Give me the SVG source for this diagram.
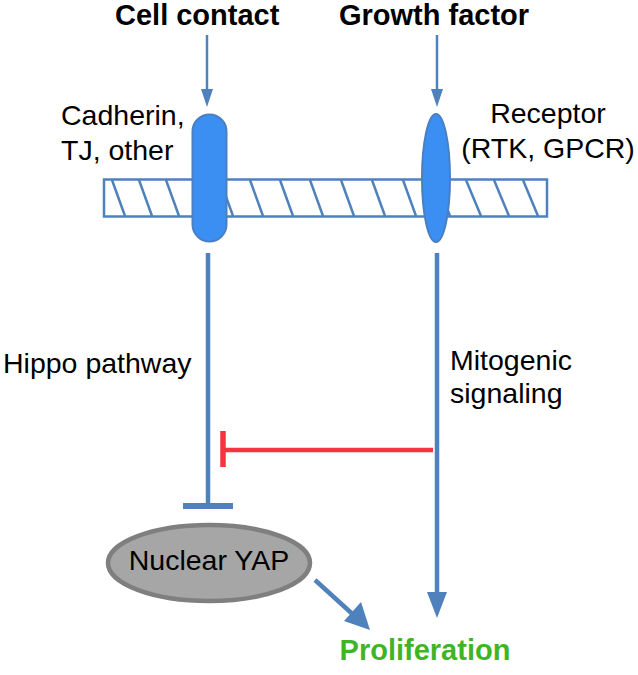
<svg xmlns="http://www.w3.org/2000/svg" width="638" height="675" viewBox="0 0 638 675">
<defs>
<style>
.t{font-family:"Liberation Sans",Arial,sans-serif;font-size:28.5px;fill:#000}
.b{font-family:"Liberation Sans",Arial,sans-serif;font-size:29px;font-weight:bold;fill:#000}
.ln{stroke:#4f81bd;fill:none}
.st{stroke:#4f81bd;stroke-width:2.5}
.hd{fill:#4f81bd}
</style>
</defs>
<rect width="638" height="675" fill="#fff"/>

<g id="membrane">
<rect x="104" y="179.5" width="443" height="37" fill="#fff" stroke="#4f81bd" stroke-width="2.5"/>
<g class="st">
<line x1="112" y1="180" x2="125" y2="216"/>
<line x1="139" y1="180" x2="152" y2="216"/>
<line x1="166" y1="180" x2="179" y2="216"/>
<line x1="220" y1="180" x2="233" y2="216"/>
<line x1="250" y1="180" x2="263" y2="216"/>
<line x1="280" y1="180" x2="293" y2="216"/>
<line x1="310" y1="180" x2="323" y2="216"/>
<line x1="341" y1="180" x2="354" y2="216"/>
<line x1="372" y1="180" x2="385" y2="216"/>
<line x1="403" y1="180" x2="416" y2="216"/>
<line x1="436" y1="180" x2="450" y2="216"/>
<line x1="466" y1="180" x2="481" y2="216"/>
<line x1="494" y1="180" x2="509" y2="216"/>
<line x1="523" y1="180" x2="538" y2="216"/>
</g>
</g>

<g id="cell-contact">
<text class="b" x="115" y="25">Cell contact</text>
</g>
<g id="growth-factor">
<text class="b" x="339" y="25">Growth factor</text>
</g>

<g id="cadherin">
<rect x="192.5" y="114.5" width="34" height="127" rx="17" fill="#3b8ff2" stroke="#4a7fc1" stroke-width="2"/>
<text class="t" x="61" y="125">Cadherin,</text>
<text class="t" x="61" y="160">TJ, other</text>
</g>

<g id="receptor">
<ellipse cx="436" cy="178" rx="14" ry="64" fill="#3b8ff2" stroke="#4a7fc1" stroke-width="2"/>
<text class="t" x="548" y="123" text-anchor="middle">Receptor</text>
<text class="t" x="548" y="158" text-anchor="middle">(RTK, GPCR)</text>
</g>

<g id="hippo-label">
<text class="t" x="3" y="373">Hippo pathway</text>
</g>
<g id="mitogenic-label">
<text class="t" x="450" y="370">Mitogenic</text>
<text class="t" x="450" y="403">signaling</text>
</g>

<g id="nuclear-yap">
<ellipse cx="209" cy="563" rx="101" ry="38" fill="#a6a6a6" stroke="#7f7f7f" stroke-width="4.5"/>
<text class="t" x="209" y="570" text-anchor="middle">Nuclear YAP</text>
</g>

<g id="proliferation">
<text x="425" y="660" text-anchor="middle" style="font-family:'Liberation Sans',Arial,sans-serif;font-size:29px;font-weight:bold;fill:#3fb526">Proliferation</text>
</g>

<g id="connectors">
<line class="ln" x1="207" y1="35" x2="207" y2="90" stroke-width="2.5"/>
<path class="hd" d="M201,89 L213,89 L207,107 z"/>
<line class="ln" x1="437" y1="35" x2="437" y2="90" stroke-width="2.5"/>
<path class="hd" d="M431,89 L443,89 L437,107 z"/>

<line class="ln" x1="208" y1="253" x2="208" y2="506" stroke-width="4.5"/>
<line x1="183" y1="506" x2="233" y2="506" stroke="#4f81bd" stroke-width="6"/>

<line class="ln" x1="437" y1="253" x2="437" y2="594" stroke-width="4.5"/>
<path class="hd" d="M427,592 L447,592 L437,618 z"/>

<line x1="433" y1="450" x2="223" y2="450" stroke="#f2353f" stroke-width="4.5"/>
<line x1="223" y1="431" x2="223" y2="467" stroke="#f2353f" stroke-width="5.5"/>

<line class="ln" x1="315" y1="580" x2="353" y2="614.5" stroke-width="4.5"/>
<path class="hd" d="M344,621 L361,602 L370,630 z"/>
</g>
</svg>
